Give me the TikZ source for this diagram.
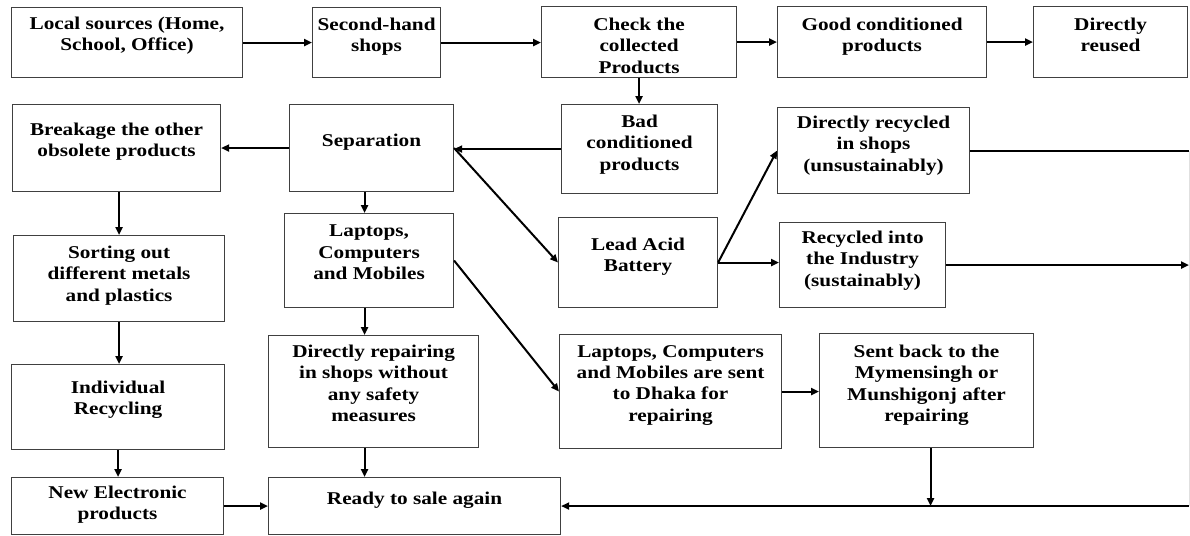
\documentclass[tikz,border=0pt]{standalone}
\usepackage{fontspec}
\setmainfont{Liberation Serif}[FakeStretch=1.18]
\usetikzlibrary{arrows.meta}

\begin{document}
\begin{tikzpicture}[x=1pt,y=-1pt,
  box/.style={draw=black!75,line width=1.1pt,anchor=north west,inner sep=0pt},
  txt/.style={font=\fontsize{18}{21.3}\selectfont\bfseries,align=center,anchor=north,inner sep=0pt},
  line/.style={line width=2pt},
  arr/.style={line width=2pt,-{Triangle[length=8pt,width=7pt]}}]
\useasboundingbox (0,0) rectangle (1190,535);
\coordinate (edge) at (1189,0);

% first row
\node[box,minimum width=231pt,minimum height=70pt,label={[txt,yshift=-10pt]north:Local sources (Home,\\School, Office)}] (local) at (11,7) {};
\node[box,minimum width=128pt,minimum height=70pt,label={[txt,yshift=-11pt]north:Second-hand\\shops}] (shops) at (312,7) {};
\node[box,minimum width=195pt,minimum height=71pt,label={[txt,yshift=-12pt]north:Check the\\collected\\Products}] (check) at (541,6) {};
\node[box,minimum width=209pt,minimum height=71pt,label={[txt,yshift=-12pt]north:Good conditioned\\products}] (good) at (777,6) {};
\node[box,minimum width=154pt,minimum height=71pt,label={[txt,yshift=-12pt]north:Directly\\reused}] (reused) at (1033,6) {};

% second row
\node[box,minimum width=208pt,minimum height=87pt,label={[txt,yshift=-19pt]north:Breakage the other\\obsolete products}] (breakage) at (12,104) {};
\node[box,minimum width=164pt,minimum height=87pt,label={[txt,yshift=-30pt]north:Separation}] (sep) at (289,104) {};
\node[box,minimum width=156pt,minimum height=89pt,label={[txt,yshift=-11pt]north:Bad\\conditioned\\products}] (bad) at (561,104) {};
\node[box,minimum width=192pt,minimum height=86pt,label={[txt,yshift=-9pt]north:Directly recycled\\in shops\\(unsustainably)}] (drec) at (777,107) {};

% third row
\node[box,minimum width=211pt,minimum height=86pt,label={[txt,yshift=-11pt]north:Sorting out\\different metals\\and plastics}] (sorting) at (13,235) {};
\node[box,minimum width=169pt,minimum height=94pt,label={[txt,yshift=-12pt]north:Laptops,\\Computers\\and Mobiles}] (laptops) at (284,213) {};
\node[box,minimum width=159pt,minimum height=90pt,label={[txt,yshift=-21pt]north:Lead Acid\\Battery}] (lead) at (558,217) {};
\node[box,minimum width=166pt,minimum height=85pt,label={[txt,yshift=-9pt]north:Recycled into\\the Industry\\(sustainably)}] (industry) at (779,222) {};

% fourth row
\node[box,minimum width=213pt,minimum height=85pt,label={[txt,yshift=-17pt]north:Individual\\Recycling}] (indiv) at (11,364) {};
\node[box,minimum width=210pt,minimum height=112pt,label={[txt,yshift=-10pt]north:Directly repairing\\in shops without\\any safety\\measures}] (repair) at (268,335) {};
\node[box,minimum width=222pt,minimum height=114pt,label={[txt,yshift=-11pt]north:Laptops, Computers\\and Mobiles are sent\\to Dhaka for\\repairing}] (dhaka) at (559,334) {};
\node[box,minimum width=214pt,minimum height=114pt,label={[txt,yshift=-12pt]north:Sent back to the\\Mymensingh or\\Munshigonj after\\repairing}] (sent) at (819,333) {};

% last row
\node[box,minimum width=212pt,minimum height=57pt,label={[txt,yshift=-9pt]north:New Electronic\\products}] (newel) at (11,477) {};
\node[box,minimum width=292pt,minimum height=57pt,label={[txt,yshift=-15pt]north:Ready to sale again}] (ready) at (268,477) {};

% arrows
\draw[arr] (local.east) -- (shops.west);
\draw[arr] (shops.east) -- (shops.east -| check.west);
\draw[arr] (check.east) -- (good.west);
\draw[arr] (good.east) -- (reused.west);
\draw[arr] (check.south) -- (check.south |- bad.north);
\draw[arr] (bad.west) -- (bad.west -| sep.east);
\draw[arr] (sep.west) -- (sep.west -| breakage.east);
\draw[arr] (breakage.south -| sorting.north) -- (sorting.north);
\draw[arr] (sorting.south) -- (sorting.south |- indiv.north);
\draw[arr] (indiv.south) -- (indiv.south |- newel.north);
\draw[arr] (newel.east) -- (ready.west);
\draw[arr] ([xshift=-7pt]sep.south) -- ([xshift=-7pt]sep.south |- laptops.north);
\draw[arr] ([xshift=-4.5pt]laptops.south) -- ([xshift=-4.5pt]laptops.south |- repair.north);
\draw[arr] ([xshift=-9pt]repair.south) -- ([xshift=-9pt]repair.south |- ready.north);
\draw[arr] (sep.east) -- (lead.west);
\draw[arr] (laptops.east) -- (dhaka.west);
\draw[arr] (lead.east) -- (drec.west);
\draw[arr] (lead.east) -- (lead.east -| industry.west);
\draw[arr] (dhaka.east) -- (dhaka.east -| sent.west);

% lines to the right edge
\draw[line] (drec.east) -- (drec.east -| edge);
\draw[arr] (industry.east) -- (industry.east -| edge);
\draw[black!12,line width=0.8pt] (drec.east -| edge) -- (ready.east -| edge);
\draw[line] (ready.east -| edge) -- (ready.east -| sent.south);
\draw[arr] ([xshift=4pt]sent.south) -- ([xshift=4pt]sent.south |- ready.east);
\draw[arr] (ready.east -| sent.south) -- (ready.east);
\end{tikzpicture}
\end{document}
